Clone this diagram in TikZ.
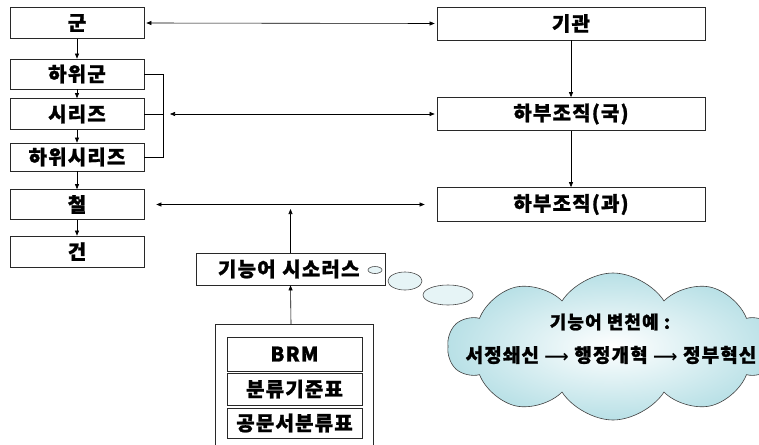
\documentclass[tikz,border=0pt]{standalone}
\usepackage{fontspec}
\newfontfamily\kr{Noto Sans CJK KR}[LetterSpace=6, BoldFeatures={FakeBold=1.2}]
\newfontfamily\symf{DejaVu Sans}
\usetikzlibrary{arrows.meta,shapes.symbols}
\definecolor{cloudc}{RGB}{184,224,230}
\definecolor{lineg}{RGB}{40,40,40}
\begin{document}
\begin{tikzpicture}[x=1pt,y=-1pt,
  box/.style={draw=lineg, line width=0.7pt, minimum width=134pt, inner sep=0pt,
    font=\kr\bfseries\fontsize{20}{20}\selectfont},
  rbox/.style={box, minimum width=268pt},
  arr/.style={-{Triangle[length=5pt,width=4pt]}, line width=0.6pt},
  darr/.style={{Triangle[length=5pt,width=4pt]}-{Triangle[length=5pt,width=4pt]}, line width=0.6pt},
  bub/.style={draw=black!70, line width=0.6pt, fill=cloudc!35},
  ctext/.style={font=\kr\bfseries\fontsize{18}{18}\selectfont, inner sep=0pt}
]
\useasboundingbox (0,0) rectangle (759,444);
% left column
\node[box, minimum height=31pt] (gun) at (77,23) {군};
\node[box, minimum height=30pt] (hgun) at (77,74) {하위군};
\node[box, minimum height=31pt] (ser) at (77,114) {시리즈};
\node[box, minimum height=28pt] (hser) at (77,157) {하위시리즈};
\node[box, minimum height=30pt] (cheol) at (77,204.5) {철};
\node[box, minimum height=31pt] (geon) at (77,251.5) {건};
% right column
\node[rbox, minimum height=33pt] (gig) at (571,23.5) {기관};
\node[rbox, minimum height=33pt] (guk) at (571,114) {하부조직(국)};
\node[rbox, minimum height=34pt] (gwa) at (571,204.5) {하부조직(과)};
% thesaurus
\node[box, minimum width=189pt, minimum height=32pt, text width=189pt, align=left] (the) at (290.5,269) {\hspace*{22pt}기능어 시소러스};
% outer source box (bottom cut off)
\coordinate (obt) at (291,324);
\draw[draw=lineg, line width=0.7pt] (215,450) -- (215,324) -- (373,324) -- (373,450);
\node[box, minimum width=135pt, minimum height=34pt] (brm) at (294.5,354) {BRM};
\node[box, minimum width=135pt, minimum height=32pt] (bun) at (294.5,389) {분류기준표};
\node[box, minimum width=135pt, minimum height=30pt] (gong) at (294.5,423) {공문서분류표};
% left vertical arrows
\draw[arr] (gun) -- (hgun);
\draw[arr] (hgun) -- (ser);
\draw[arr] (ser) -- (hser);
\draw[arr] (hser) -- (cheol);
\draw[arr] (cheol) -- (geon);
% right vertical arrows
\draw[arr] (gig) -- (guk);
\draw[arr] (guk) -- (gwa);
% horizontal links
\draw[darr, shorten <=2pt, shorten >=2pt] (gun.east) -- (gig.west);
\coordinate (bj) at (163,114);
\draw[line width=0.6pt] (hgun.east) -- (hgun.east -| bj) -- (hser.east -| bj) -- (hser.east);
\draw[line width=0.6pt] (ser.east) -- (bj);
\draw[darr, shorten <=7pt, shorten >=2pt] (bj) -- (guk.west);
\draw[darr, shorten <=12pt, shorten >=12pt] (cheol.east) -- (gwa.west);
\coordinate (tip) at (290.5,209);
\draw[arr] (the.north) -- (tip);
\draw[arr] (obt) -- (the.south);
% cloud and bubbles
\begin{scope}
\clip (0,0) rectangle (759,444);
\node[cloud, cloud puffs=10, cloud puff arc=115, aspect=2.2, inner sep=0pt,
  minimum width=330pt, minimum height=147pt, draw=black!75, line width=0.6pt,
  shading=radial, inner color=white, outer color=cloudc] (cl) at (613,346.5) {};
\end{scope}
\draw[bub] (375,270) ellipse [x radius=7, y radius=3.5];
\draw[bub] (405,281) ellipse [x radius=17, y radius=9];
\draw[bub] (448,295) ellipse [x radius=25, y radius=10];
\node[ctext] (c1) at (610,322) {기능어 변천예 :};
\node[ctext, font=\kr\bfseries\fontsize{19}{19}\selectfont] (c2) at (611,355) {서정쇄신 {\symf\fontsize{17}{17}\selectfont ⟶} 행정개혁 {\symf\fontsize{17}{17}\selectfont ⟶} 정부혁신};
\end{tikzpicture}
\end{document}
